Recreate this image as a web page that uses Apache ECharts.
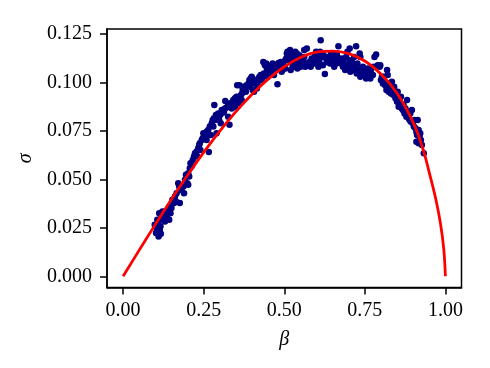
<!DOCTYPE html>
<html>
<head>
<meta charset="utf-8">
<script src="https://cdn.jsdelivr.net/npm/echarts@6/dist/echarts.min.js"></script>
<style>html,body{margin:0;padding:0;background:#fff}#c{width:490px;height:368px}</style>
</head>
<body>
<div id="c"></div>
<script>
// observed points (beta, sigma)
var betaObs = [
0.098,0.104,0.106,0.109,0.112,0.114,0.102,0.109,0.116,0.112,0.119,0.124,0.130,0.122,0.106,0.110,0.117,
0.135,0.140,0.145,0.150,0.153,0.158,0.161,0.166,0.171,0.176,0.181,0.187,0.192,0.195,0.199,0.202,0.189,0.174,0.164,0.147,0.143,0.130,
0.202,0.207,0.209,0.216,0.220,0.223,0.228,0.233,0.236,0.238,0.244,0.247,0.251,0.254,0.257,0.212,0.205,0.230,0.240,0.259,0.249,0.266,
0.259,0.264,0.269,0.275,0.278,0.282,0.285,0.288,0.292,0.295,0.298,0.301,0.306,0.309,0.313,0.316,0.321,0.326,0.330,0.332,0.337,0.340,0.283,0.317,0.280,0.290,0.272,0.303,0.326,0.337,
0.342,0.347,0.350,0.352,0.354,0.361,0.363,0.368,0.371,0.373,0.375,0.378,0.381,0.383,0.389,0.392,0.396,0.399,0.402,0.404,0.409,0.412,0.415,0.417,0.420,0.423,0.358,0.368,0.347,0.394,0.406,
0.427,0.430,0.433,0.435,0.440,0.444,0.446,0.451,0.454,0.456,0.458,0.461,0.464,0.466,0.472,0.475,0.479,0.482,0.487,0.492,0.495,0.497,0.503,0.506,0.437,0.448,0.468,0.489,0.503,0.508,
0.510,0.513,0.516,0.518,0.523,0.526,0.528,0.531,0.534,0.537,0.539,0.544,0.547,0.549,0.551,0.554,0.558,0.562,0.565,0.568,0.570,0.575,0.578,0.582,0.585,0.589,0.520,0.541,0.562,
0.593,0.596,0.599,0.601,0.606,0.609,0.613,0.617,0.620,0.622,0.626,0.630,0.632,0.637,0.640,0.642,0.648,0.653,0.655,0.658,0.661,0.665,0.668,0.672,0.603,0.611,0.645,0.663,
0.676,0.679,0.682,0.684,0.689,0.692,0.694,0.696,0.699,0.703,0.705,0.707,0.710,0.713,0.715,0.717,0.720,0.723,0.725,0.727,0.731,0.734,0.736,0.738,0.741,0.744,0.748,0.751,0.754,0.703,0.736,
0.759,0.762,0.765,0.767,0.769,0.772,0.775,0.777,0.780,0.785,0.790,0.796,0.800,0.803,0.806,0.810,0.813,0.817,0.819,0.821,0.824,0.827,0.829,0.831,0.834,0.837,0.839,0.798,0.808,
0.841,0.845,0.848,0.850,0.852,0.855,0.858,0.860,0.862,0.865,0.868,0.870,0.873,0.876,0.879,0.881,0.883,0.886,0.889,0.891,0.893,0.896,0.899,0.902,0.904,0.907,0.910,0.912,0.914,0.917,0.920,0.922,0.924,0.927,0.933,0.917,0.910
];
var sigmaObs = [
0.0266,0.0249,0.0237,0.0223,0.0215,0.0240,0.0223,0.0275,0.0258,0.0326,0.0309,0.0292,0.0283,0.0335,0.0292,0.0206,0.0220,
0.0309,0.0335,0.0361,0.0352,0.0395,0.0378,0.0412,0.0429,0.0481,0.0378,0.0446,0.0464,0.0498,0.0524,0.0481,0.0472,0.0429,0.0464,0.0386,0.0326,0.0292,0.0335,
0.0532,0.0558,0.0584,0.0601,0.0618,0.0635,0.0644,0.0661,0.0678,0.0687,0.0704,0.0713,0.0721,0.0730,0.0713,0.0567,0.0515,0.0618,0.0652,0.0704,0.0738,0.0642,
0.0747,0.0755,0.0773,0.0790,0.0807,0.0816,0.0807,0.0833,0.0824,0.0841,0.0807,0.0833,0.0859,0.0845,0.0850,0.0867,0.0872,0.0884,0.0783,0.0893,0.0884,0.0901,0.0884,0.0905,0.0773,0.0738,0.0730,0.0790,0.0824,0.0867,
0.0910,0.0919,0.0910,0.0927,0.0987,0.0987,0.0931,0.0941,0.0962,0.0979,0.0953,0.0970,0.0953,0.0987,0.0996,0.1013,0.1022,0.1030,0.0962,0.1004,0.0996,0.1013,0.0970,0.0996,0.1022,0.1030,0.0893,0.0910,0.0876,0.0979,0.0953,
0.1039,0.1013,0.1030,0.1107,0.1090,0.1099,0.1073,0.1065,0.1082,0.1047,0.1056,0.1090,0.1099,0.1065,0.1073,0.1090,0.0992,0.1102,0.1082,0.1056,0.1065,0.1099,0.1073,0.1125,0.1047,0.1030,0.1039,0.1107,0.1116,0.1150,
0.1159,0.1142,0.1116,0.1168,0.1150,0.1090,0.1133,0.1082,0.1159,0.1116,0.1150,0.1099,0.1142,0.1125,0.1082,0.1116,0.1107,0.1133,0.1082,0.1099,0.1176,0.1090,0.1107,0.1082,0.1125,0.1116,0.1065,0.1073,0.1168,
0.1099,0.1142,0.1159,0.1125,0.1082,0.1107,0.1219,0.1133,0.1090,0.1142,0.1044,0.1125,0.1107,0.1133,0.1116,0.1099,0.1137,0.1119,0.1082,0.1107,0.1099,0.1133,0.1188,0.1116,0.1150,0.1159,0.1150,0.1150,
0.1099,0.1125,0.1082,0.1107,0.1065,0.1133,0.1090,0.1159,0.1073,0.1116,0.1056,0.1082,0.1107,0.1065,0.1090,0.1133,0.1073,0.1188,0.1047,0.1099,0.1065,0.1150,0.1030,0.1073,0.1056,0.1082,0.1039,0.1065,0.1022,0.1176,0.1133,
0.1073,0.1047,0.1030,0.1022,0.1065,0.1039,0.1039,0.1082,0.1133,0.1145,0.1090,0.1082,0.1013,0.1030,0.0996,0.1004,0.0987,0.0962,0.1065,0.1039,0.0953,0.0996,0.0979,0.0944,0.1004,0.0953,0.0936,0.1090,0.1030,
0.0979,0.0919,0.0944,0.0901,0.0953,0.0876,0.0910,0.0893,0.0927,0.0867,0.0859,0.0884,0.0841,0.0867,0.0824,0.0910,0.0850,0.0816,0.0807,0.0841,0.0798,0.0859,0.0790,0.0773,0.0807,0.0764,0.0747,0.0730,0.0807,0.0755,0.0721,0.0738,0.0704,0.0678,0.0635,0.0687,0.0695
];
// fitted curve (beta, sigma)
var betaFit  = [0, 0.05, 0.10, 0.15, 0.20, 0.25, 0.30, 0.35, 0.40, 0.45, 0.50, 0.55, 0.60, 0.65, 0.70, 0.75, 0.80, 0.85, 0.90, 0.93, 0.95, 0.97, 0.985, 0.995, 1.0];
var sigmaFit = [0, 0.0135, 0.0268, 0.0398, 0.0522, 0.0640, 0.0750, 0.0850, 0.0940, 0.1018, 0.1082, 0.1130, 0.1158, 0.1163, 0.1150, 0.1112, 0.1045, 0.0945, 0.0795, 0.0660, 0.0535, 0.0400, 0.0270, 0.0140, 0];
// tick labels
var xTicks = [0, 0.25, 0.5, 0.75, 1.0];
var xTickLabels = ['0.00', '0.25', '0.50', '0.75', '1.00'];
var yTicks = [0, 0.025, 0.05, 0.075, 0.1, 0.125];
var yTickLabels = ['0.000', '0.025', '0.050', '0.075', '0.100', '0.125'];

var obs = betaObs.map(function (b, i) { return [b, sigmaObs[i]]; });
var fit = betaFit.map(function (b, i) { return [b, sigmaFit[i]]; });
function lab(ticks, labels) {
  return function (v) {
    for (var i = 0; i < ticks.length; i++) if (Math.abs(ticks[i] - v) < 1e-9) return labels[i];
    return '';
  };
}
var font = '"Liberation Serif", "DejaVu Serif", serif';
var chart = echarts.init(document.getElementById('c'), null, {renderer: 'canvas'});
chart.setOption({
  animation: false,
  backgroundColor: '#fff',
  grid: {left: 107, right: 28.5, top: 29, bottom: 80.5, show: true, borderColor: '#000', borderWidth: 1.5, backgroundColor: 'transparent'},
  xAxis: {
    type: 'value', min: -0.05, max: 1.05,
    name: 'β', nameLocation: 'middle', nameGap: 42,
    nameTextStyle: {fontFamily: font, fontStyle: 'italic', fontSize: 20, color: '#000'},
    axisLine: {show: true, onZero: false, lineStyle: {color: '#000', width: 1.5}},
    axisTick: {show: true, length: 7, lineStyle: {color: '#000', width: 1.5}, customValues: xTicks},
    axisLabel: {customValues: xTicks, formatter: lab(xTicks, xTickLabels), fontFamily: font, fontSize: 20, color: '#000', margin: 13},
    splitLine: {show: false}
  },
  yAxis: {
    type: 'value', min: -0.0058, max: 0.1277,
    name: 'σ', nameLocation: 'middle', nameGap: 69, nameRotate: 90,
    nameTextStyle: {fontFamily: font, fontStyle: 'italic', fontSize: 20, color: '#000'},
    axisLine: {show: true, onZero: false, lineStyle: {color: '#000', width: 1.5}},
    axisTick: {show: true, length: 7, lineStyle: {color: '#000', width: 1.5}, customValues: yTicks},
    axisLabel: {customValues: yTicks, formatter: lab(yTicks, yTickLabels), fontFamily: font, fontSize: 20, color: '#000', margin: 15},
    splitLine: {show: false}
  },
  series: [
    {type: 'scatter', data: obs, symbol: 'circle', symbolSize: 6.5, itemStyle: {color: '#000080', opacity: 1}, z: 2},
    {type: 'line', data: fit, smooth: 0.4, showSymbol: false, symbol: 'none', lineStyle: {color: '#ff0000', width: 2.8}, z: 3}
  ]
});
</script>
</body>
</html>
